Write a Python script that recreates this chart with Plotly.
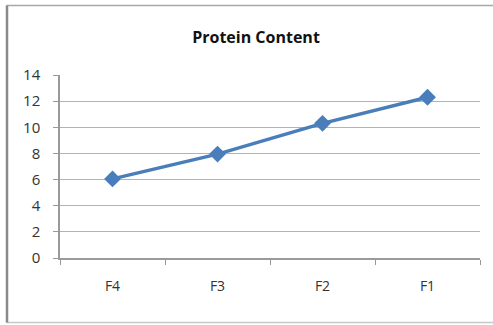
import plotly.graph_objects as go

# Protein content per fraction
categories = ["F4", "F3", "F2", "F1"]
protein = [6.05, 7.95, 10.3, 12.3]
y_ticks = [0, 2, 4, 6, 8, 10, 12, 14]

W, H = 493, 325
L, R, T, B = 60, 13, 75, 67
pw, ph = W - L - R, H - T - B

def px_x(p):
    return (p - L) / pw

def px_y(p):
    return (H - B - p) / ph

fig = go.Figure()
fig.add_trace(go.Scatter(
    x=categories, y=protein, mode="lines+markers",
    line=dict(color="#4a7ebb", width=3.5),
    marker=dict(symbol="diamond", size=13, color="#4a7ebb"),
    showlegend=False,
))

font_family = "Open Sans, Noto Sans, sans-serif"

fig.update_layout(
    width=W, height=H,
    margin=dict(l=L, r=R, t=T, b=B),
    paper_bgcolor="white", plot_bgcolor="white",
    title=dict(text="<b>Protein Content</b>", x=256 / W,
               xanchor="center", y=1 - 37 / H, yanchor="middle",
               font=dict(family=font_family, size=16, color="#111")),
    font=dict(family=font_family, color="#333"),
    xaxis=dict(
        type="category", range=[-0.5, 3.5],
        showgrid=False, showline=True, linecolor="#9a9a9a", linewidth=1.5,
        ticks="outside", tickson="boundaries", ticklen=5, tickcolor="#9a9a9a",
        tickfont=dict(size=14, color="#333"), ticklabelstandoff=14,
    ),
    yaxis=dict(
        range=[0, 14], tickvals=y_ticks,
        showgrid=True, gridcolor="#b3b3b3", gridwidth=1.2,
        showline=True, linecolor="#9a9a9a", linewidth=1.5,
        ticks="outside", ticklen=5, tickcolor="#9a9a9a",
        tickfont=dict(size=15, color="#333"), ticklabelstandoff=10,
        zeroline=False,
    ),
)

# Chart-area frame: top, bottom and left edges (open at the right)
frame = dict(xref="paper", yref="paper", type="line", layer="below")
fig.add_shape(x0=px_x(6.5), x1=px_x(W), y0=px_y(5.5), y1=px_y(5.5),
              line=dict(color="#a8a8a8", width=1.5), **frame)
fig.add_shape(x0=px_x(6.5), x1=px_x(W), y0=px_y(322.5), y1=px_y(322.5),
              line=dict(color="#c8c8c8", width=1.5), **frame)
fig.add_shape(x0=px_x(7), x1=px_x(7), y0=px_y(322.5), y1=px_y(5.5),
              line=dict(color="#8a8a8a", width=2.5), **frame)

fig.write_html("out.html")
